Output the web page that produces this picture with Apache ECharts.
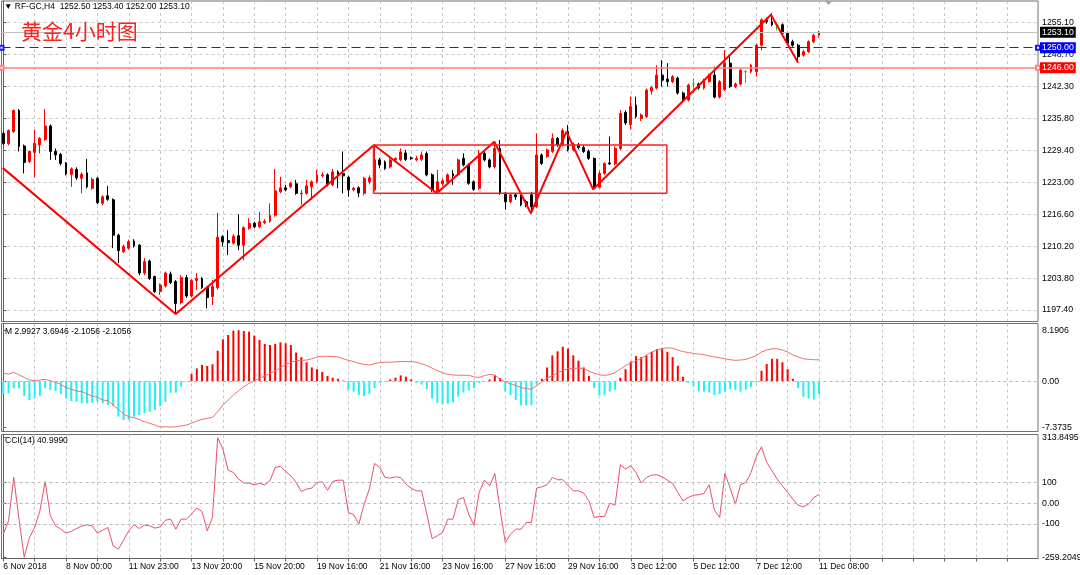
<!DOCTYPE html>
<html><head><meta charset="utf-8">
<script src="https://cdn.jsdelivr.net/npm/echarts@6/dist/echarts.min.js"></script>
<style>html,body{margin:0;padding:0;background:#fff}#c{width:1080px;height:575px}</style>
</head><body><div id="c"></div>
<script>
// ---------- data ----------
const tickLabels = ['6 Nov 2018','8 Nov 00:00','11 Nov 23:00','13 Nov 20:00','15 Nov 20:00','19 Nov 16:00','21 Nov 16:00','23 Nov 16:00','27 Nov 16:00','29 Nov 16:00','3 Dec 12:00','5 Dec 12:00','7 Dec 12:00','11 Dec 08:00'];
const tickLabelBars = [0,12,24,36,48,60,72,84,96,108,120,132,144,156];
const gridBars = [0,6,12,18,24,30,36,42,48,54,60,66,72,78,84,90,96,102,108,114,120,126,132,138,144,150,156,162,168,174,180,186,192];

const opens = [1232.8,1230.8,1233.2,1237.4,1230.3,1227.2,1229.0,1230.5,1231.6,1234.3,
1229.2,1228.6,1226.9,1224.6,1225.6,1223.8,1224.9,1221.8,1223.8,1218.8,
1220.3,1219.5,1212.4,1209.1,1209.8,1211.2,1210.4,1204.8,1207.2,1204.1,
1201.1,1202.2,1204.6,1203.1,1198.9,1203.9,1200.2,1203.3,1203.7,1201.9,
1200.1,1201.9,1212.1,1211.3,1210.8,1212.3,1210.4,1213.8,1214.8,1214.1,
1214.9,1215.2,1216.4,1221.1,1221.9,1222.1,1222.7,1220.7,1220.8,1222.1,
1223.1,1224.3,1224.5,1222.5,1225.1,1224.8,1224.0,1221.5,1221.9,1220.8,
1223.1,1221.5,1227.5,1227.1,1226.1,1227.5,1227.5,1228.9,1227.9,1227.5,
1227.6,1228.8,1224.5,1221.1,1222.7,1223.1,1224.7,1224.5,1227.8,1226.5,
1223.1,1221.8,1228.8,1227.5,1226.1,1229.8,1220.8,1219.1,1220.5,1220.3,
1219.1,1220.5,1218.1,1228.5,1228.2,1229.2,1231.8,1230.5,1233.2,1229.6,
1230.5,1230.0,1229.2,1227.8,1222.0,1224.8,1226.9,1226.7,1229.8,1237.0,
1234.6,1238.5,1235.8,1236.2,1241.3,1241.9,1244.5,1243.7,1243.2,1243.9,
1240.9,1239.5,1242.7,1242.7,1241.9,1243.2,1244.5,1240.1,1241.6,1246.9,
1242.2,1242.7,1245.2,1245.2,1245.2,1250.5,1255.6,1255.2,1254.5,1254.6,
1252.9,1251.2,1250.5,1248.5,1249.2,1251.2,1252.5];
const highs = [1233.2,1233.6,1237.6,1237.7,1230.6,1229.4,1233.5,1232.1,1237.7,1234.6,
1229.8,1228.9,1227.1,1226.0,1226.0,1225.0,1227.7,1224.0,1224.1,1220.4,
1222.3,1219.8,1212.7,1210.5,1211.5,1211.6,1210.6,1207.8,1207.5,1204.3,
1202.7,1205.1,1205.1,1203.4,1204.4,1204.4,1203.6,1204.8,1204.0,1202.1,
1203.4,1216.9,1212.4,1213.4,1212.6,1216.6,1214.2,1215.8,1215.1,1217.1,
1215.6,1218.8,1225.7,1224.1,1222.5,1223.1,1223.5,1221.5,1223.5,1223.4,
1225.5,1225.0,1224.8,1225.7,1225.4,1229.2,1224.3,1222.1,1222.2,1224.1,
1224.4,1230.5,1227.9,1227.4,1227.8,1228.0,1229.8,1229.5,1228.2,1228.3,
1229.2,1229.2,1224.8,1225.5,1223.8,1224.8,1225.5,1227.8,1228.8,1226.8,
1223.4,1229.5,1229.2,1227.8,1231.2,1231.5,1221.1,1220.8,1220.8,1220.6,
1219.5,1221.1,1232.8,1228.8,1229.8,1232.8,1232.1,1233.8,1234.5,1231.0,
1230.9,1230.5,1229.6,1228.0,1225.3,1227.0,1232.2,1230.2,1237.5,1237.4,
1240.2,1240.2,1236.8,1241.8,1242.3,1246.5,1247.5,1246.9,1244.5,1244.2,
1241.2,1242.8,1243.9,1243.0,1243.8,1244.8,1246.2,1243.5,1249.5,1248.5,
1243.0,1245.8,1245.6,1246.8,1250.8,1255.9,1256.0,1256.9,1255.0,1254.9,
1253.2,1251.6,1250.8,1249.6,1251.5,1252.8,1253.4];
const lows = [1230.5,1230.4,1232.9,1229.2,1224.8,1226.9,1224.0,1228.8,1231.3,1227.5,
1227.5,1226.4,1224.4,1222.1,1223.5,1220.8,1221.8,1221.5,1218.6,1218.4,
1219.3,1209.8,1206.8,1208.8,1209.5,1209.9,1204.4,1204.4,1203.4,1200.8,
1200.4,1201.9,1202.6,1196.6,1198.5,1199.8,1199.9,1201.4,1201.6,1197.7,
1198.4,1201.5,1210.1,1208.4,1210.5,1209.4,1207.4,1213.5,1213.8,1213.8,
1214.6,1214.9,1216.1,1220.8,1221.2,1221.8,1220.5,1218.5,1220.5,1219.5,
1222.8,1224.0,1222.2,1222.2,1221.8,1220.8,1220.1,1221.2,1220.0,1220.4,
1222.6,1221.2,1225.8,1225.5,1225.8,1227.2,1227.2,1227.3,1227.5,1227.2,
1227.3,1224.2,1221.1,1220.8,1222.2,1222.8,1222.5,1224.2,1226.2,1222.5,
1221.3,1221.5,1227.2,1225.8,1225.8,1220.5,1217.5,1218.8,1219.5,1218.2,
1218.0,1216.8,1217.8,1226.5,1227.9,1228.9,1230.1,1230.2,1229.2,1229.2,
1229.6,1228.9,1227.5,1221.6,1221.8,1224.5,1226.5,1226.4,1229.5,1234.5,
1233.6,1235.8,1235.3,1235.9,1240.6,1241.6,1242.2,1242.2,1242.9,1240.6,
1239.2,1239.2,1240.9,1241.6,1241.6,1243.0,1239.8,1239.8,1241.3,1241.9,
1241.9,1242.4,1242.9,1244.9,1244.2,1249.5,1254.8,1254.3,1253.5,1252.6,
1250.6,1250.2,1247.0,1248.2,1248.9,1250.9,1252.0];
const closes = [1230.8,1233.4,1237.4,1230.2,1227.0,1229.2,1230.8,1231.8,1234.3,1229.2,
1228.5,1226.8,1224.7,1225.7,1223.9,1224.6,1222.1,1223.6,1218.9,1220.1,
1219.6,1212.4,1209.3,1210.1,1211.1,1210.3,1204.8,1207.1,1203.7,1201.1,
1202.4,1204.8,1202.9,1198.7,1203.9,1200.2,1203.3,1203.7,1201.9,1199.9,
1202.1,1212.0,1211.1,1210.9,1212.2,1210.4,1213.9,1214.8,1214.1,1215.1,
1215.2,1216.4,1221.3,1221.9,1221.5,1222.8,1220.8,1220.8,1222.3,1223.1,
1224.5,1224.5,1222.5,1225.1,1224.5,1224.3,1221.5,1221.8,1220.9,1223.8,
1223.9,1227.5,1226.5,1225.8,1227.5,1227.8,1229.1,1227.6,1227.8,1227.8,
1228.5,1224.5,1221.5,1223.1,1223.3,1224.5,1224.3,1227.5,1226.5,1222.8,
1221.6,1228.8,1227.5,1226.1,1229.8,1220.8,1219.1,1220.5,1220.1,1218.5,
1218.5,1218.1,1228.5,1226.8,1229.5,1231.8,1230.5,1233.4,1229.5,1230.6,
1230.0,1229.2,1227.8,1221.9,1224.8,1226.8,1226.7,1229.8,1236.8,1234.9,
1238.2,1236.2,1236.5,1241.5,1242.0,1244.5,1243.5,1243.2,1244.2,1240.9,
1239.5,1242.5,1242.7,1241.9,1243.5,1244.5,1240.1,1243.2,1246.9,1242.2,
1242.7,1245.5,1245.2,1246.5,1250.5,1255.6,1255.2,1254.6,1254.5,1252.9,
1250.9,1250.5,1248.2,1249.2,1251.2,1252.5,1253.1];
const dojiBars = [132,142,148];

const macdHist = [-1.95,-1.95,-1.14,-1.14,-2.38,-3.02,-2.75,-2.38,-1.14,-1.41,
-1.57,-2.06,-2.75,-3.18,-3.29,-3.55,-3.55,-3.45,-3.29,-3.55,
-3.82,-3.98,-5.69,-6.23,-6.23,-5.69,-5.43,-5.16,-4.90,-4.63,
-3.98,-3.29,-1.84,-1.84,-0.88,-0.10,1.16,2.06,2.60,2.44,
2.71,4.90,6.72,7.42,8.11,8.19,8.06,7.95,7.31,6.61,
5.97,5.81,5.97,6.24,6.08,5.80,4.60,3.87,3.04,2.21,
1.93,1.49,0.83,0.55,0.39,0.10,-1.38,-1.66,-2.21,-2.37,
-2.04,-1.10,-0.28,-0.10,0.28,0.55,0.94,0.72,0.28,-0.28,
-0.55,-1.27,-2.76,-3.48,-3.70,-3.59,-3.42,-2.48,-1.82,-1.49,
-1.10,-0.28,-0.10,0.28,0.94,0.50,-1.66,-2.21,-3.04,-3.87,
-3.87,-3.87,-0.50,0.39,2.21,4.14,4.80,5.52,5.25,4.14,
3.31,2.21,0.83,-1.10,-2.21,-2.21,-1.66,-1.38,0.55,1.93,
3.15,4.03,3.87,4.14,4.69,5.14,5.25,4.69,3.87,2.48,
0.72,-0.28,-0.83,-1.66,-1.66,-1.82,-2.21,-2.04,-1.66,-1.27,
-1.38,-1.66,-1.38,-0.94,-0.20,1.66,2.76,3.59,3.59,3.04,
1.93,0.39,-1.10,-2.48,-2.76,-2.93,-2.11];
const macdLine = [1.26,1.16,1.42,1.00,0.62,0.19,0.09,0.19,0.30,0.09,
-0.18,-0.50,-1.04,-1.30,-1.57,-1.68,-2.05,-2.38,-2.59,-3.02,
-3.12,-3.82,-4.52,-5.26,-5.69,-5.86,-6.12,-6.50,-6.76,-7.03,
-7.37,-7.30,-7.37,-7.30,-7.19,-7.03,-6.76,-6.39,-6.12,-5.96,
-5.80,-4.90,-3.82,-3.02,-2.22,-1.52,-0.88,-0.34,0.03,0.46,
0.83,1.26,1.64,2.17,2.71,3.03,3.30,3.35,3.40,3.60,
3.90,4.00,4.00,3.95,3.90,3.60,3.35,3.15,2.85,2.70,
2.60,2.80,3.00,3.05,3.05,3.10,3.15,3.15,3.15,3.05,
2.80,2.50,2.10,1.70,1.35,1.10,1.00,0.95,0.95,0.95,
0.70,0.60,0.90,1.10,1.00,0.30,-0.10,-0.40,-0.70,-1.00,
-1.20,-1.27,-0.70,-0.10,0.50,0.90,1.35,1.70,2.00,2.05,
2.10,2.05,1.60,1.30,1.00,0.95,1.05,1.40,1.95,2.50,
2.90,3.30,3.65,4.20,4.70,5.00,5.25,5.35,5.30,5.00,
4.75,4.60,4.45,4.35,4.25,4.05,3.90,3.75,3.60,3.45,
3.35,3.40,3.50,3.80,4.10,4.70,5.00,5.20,5.20,5.00,
4.70,4.20,3.90,3.60,3.50,3.45,3.42];
const cci = [-149,-85,123,-77,-259.2,-165,-117,-37,104,-61,
-109,-125,-144,-136,-122,-110,-104,-109,-144,-130,
-117,-205,-221,-178,-133,-104,-122,-106,-109,-120,
-114,-82,-77,-125,-77,-77,-53,-24,-40,-133,
-69,313.85,259,158,147,115,96,96,88,94,
88,107,171,176,152,131,99,56,67,72,
99,102,62,104,110,110,-45,-56,-101,-5,
67,190,171,123,120,126,123,91,72,59,
59,-53,-170,-157,-141,-77,-77,16,27,-53,
-106,51,110,83,142,-29,-189,-149,-125,-125,
-93,-93,72,78,88,123,112,112,83,59,
59,48,11,-69,-64,-64,0,-10,184,163,
179,147,96,123,134,136,126,110,94,51,
11,27,38,40,46,88,-34,-69,142,72,
-5,88,99,147,222,270,195,155,115,83,
51,19,-10,-18,-5,27,41.0];

const priceTicks = [1255.10,1248.70,1242.30,1235.80,1229.40,1223.00,1216.60,1210.20,1203.80,1197.40];
const macdTicks = [8.1906,0,-7.3735];
const macdTickText = ['8.1906','0.00','-7.3735'];
const cciTicks = [313.8495,100,0,-100,-259.2049];
const cciTickText = ['313.8495','100','0.00','-100','-259.2049'];
const cciLevels = [100,0,-100];

// drawn objects (bar index, price)
const zigzagBars   = [-0.11,32.97,70.9,82.9,93.9,100.9,107.7,112.8,146.8,152.0];
const zigzagPrices = [1225.9,1196.6,1230.5,1220.8,1231.15,1216.8,1233.16,1221.6,1256.6,1247.0];
const boxBars   = [70.8,126.9];
const boxPrices = [1230.5,1220.8];
const bidPrice = 1253.10;
const hLines = [1250.00,1246.00];

// ---------- chart ----------
const FONT = "'Liberation Sans', Arial, sans-serif";
const XMIN = -0.344, XMAX = 197.88;
const chart = echarts.init(document.getElementById('c'), null, {renderer:'canvas'});

function nearestText(v, ticks, texts){
  let best=0; for(let k=1;k<ticks.length;k++){ if(Math.abs(ticks[k]-v)<Math.abs(ticks[best]-v)) best=k; }
  return texts[best];
}
function xAx(gi, bottom){
  return {
    type:'value', gridIndex:gi, min:XMIN, max:XMAX,
    axisLine:{show:bottom, onZero:false, lineStyle:{color:'#606060'}},
    axisTick:{show:bottom, customValues:gridBars, length:3, lineStyle:{color:'#606060'}},
    axisLabel:{show:bottom, customValues:tickLabelBars, align:'left', margin:4, color:'#000',
      fontSize:8.5, fontFamily:FONT,
      formatter:(v)=>{ const k=tickLabelBars.indexOf(Math.round(v)); return k>=0?tickLabels[k]:''; }},
    splitLine:{show:true, lineStyle:{color:'#c8c8c8', type:[3,3], width:1}}
  };
}
const yLabel = {color:'#000', fontSize:8.8, fontFamily:FONT, margin:4};

const candleData = opens.map((o,i)=>{
  const item = {value:[i, o, closes[i], lows[i], highs[i]]};
  if (dojiBars.indexOf(i)>=0) item.itemStyle = {color:'#22bb22', color0:'#22bb22', borderColor:'#22bb22', borderColor0:'#22bb22', borderColorDoji:'#22bb22'};
  return item;
});

const boxData = [[boxBars[0],boxPrices[0]],[boxBars[1],boxPrices[0]],[boxBars[1],boxPrices[1]],[boxBars[0],boxPrices[1]],[boxBars[0],boxPrices[0]]];

const endLabel = (bg)=>({show:true, position:'end', distance:2, backgroundColor:bg, color:'#fff',
  fontSize:8.8, fontFamily:FONT, padding:[1,2,0,2], lineHeight:10, formatter:(p)=>Number(p.value).toFixed(2)});

const option = {
  animation:false,
  backgroundColor:'#fff',
  textStyle:{fontFamily:FONT},
  grid:[
    {left:1.5, right:42, top:1, height:320.5, show:true, borderColor:'#707070', borderWidth:1, outerBoundsMode:'none'},
    {left:1.5, right:42, top:323.5, height:108, show:true, borderColor:'#707070', borderWidth:1, outerBoundsMode:'none'},
    {left:1.5, right:42, top:434.5, height:124, show:true, borderColor:'#707070', borderWidth:1, outerBoundsMode:'none'}
  ],
  xAxis:[xAx(0,false), xAx(1,false), xAx(2,true)],
  yAxis:[
    {type:'value', gridIndex:0, position:'right', min:1195.09, max:1259.37,
     axisLine:{show:true, lineStyle:{color:'#606060'}},
     axisTick:{show:true, customValues:priceTicks, length:3, lineStyle:{color:'#606060'}},
     axisLabel:Object.assign({customValues:priceTicks, formatter:(v)=>nearestText(v, priceTicks, priceTicks.map(t=>t.toFixed(2)))}, yLabel),
     splitLine:{show:true, lineStyle:{color:'#c8c8c8', type:[3,3], width:1}}},
    {type:'value', gridIndex:1, position:'right', min:-8.07, max:9.26,
     axisLine:{show:true, lineStyle:{color:'#606060'}},
     axisTick:{show:true, customValues:macdTicks, length:3, lineStyle:{color:'#606060'}},
     axisLabel:Object.assign({customValues:macdTicks, formatter:(v)=>nearestText(v, macdTicks, macdTickText)}, yLabel),
     splitLine:{show:false}},
    {type:'value', gridIndex:2, position:'right', min:-265.7, max:329,
     axisLine:{show:true, lineStyle:{color:'#606060'}},
     axisTick:{show:true, customValues:cciTicks, length:3, lineStyle:{color:'#606060'}},
     axisLabel:Object.assign({customValues:cciTicks, formatter:(v)=>nearestText(v, cciTicks, cciTickText)}, yLabel),
     splitLine:{show:false}}
  ],
  graphic:[
    {type:'text', left:4, top:2, z:100, style:{text:'\u25BC RF-GC,H4  1252.50 1253.40 1252.00 1253.10', font:"8.5px 'Liberation Sans','DejaVu Sans'", fill:'#000'}},
    {type:'text', left:21, top:21, z:100, style:{text:'黄金4小时图', font:"21px 'Noto Sans CJK SC'", fill:'#ff2020'}},
    {type:'text', left:5, top:327, z:100, style:{text:'M 2.9927 3.6946 -2.1056 -2.1056', font:"8.5px 'Liberation Sans'", fill:'#000'}},
    {type:'text', left:5, top:436.5, z:100, style:{text:'CCI(14) 40.9990', font:"8.5px 'Liberation Sans'", fill:'#000'}},
    {type:'polygon', z:100, shape:{points:[[825,1],[832,1],[828.5,5]]}, style:{fill:'#a0a0a0'}}
  ],
  series:[
    {type:'candlestick', xAxisIndex:0, yAxisIndex:0, data:candleData, barWidth:2.4,
     encode:{x:0, y:[1,2,3,4]},
     itemStyle:{color:'#ff0000', color0:'#000000', borderColor:'#ff0000', borderColor0:'#000000', borderColorDoji:'#000000', borderWidth:1},
     markLine:{silent:true, symbol:['none','none'], animation:false,
       data:[{yAxis:bidPrice, lineStyle:{color:'#c0c0c0', type:'solid', width:1}, label:endLabel('#000000')}]}},
    {type:'line', xAxisIndex:0, yAxisIndex:0, data:zigzagBars.map((b,k)=>[b, zigzagPrices[k]]),
     showSymbol:false, symbol:'none', lineStyle:{color:'#ff0000', width:2}, z:5,
     markLine:{silent:true, symbol:['emptyRect','emptyRect'], symbolSize:4, animation:false,
       data:[
         {yAxis:hLines[0], lineStyle:{color:'#1a1aff', type:[9,5], width:1}, label:endLabel('#0000ff')},
         {yAxis:hLines[1], lineStyle:{color:'#ff8080', type:'solid', width:1.5}, label:endLabel('#ff0000')}
       ]}},
    {type:'line', xAxisIndex:0, yAxisIndex:0, data:boxData, showSymbol:false, symbol:'none',
     lineStyle:{color:'#ff2020', width:1.5}, z:5},
    {type:'bar', xAxisIndex:1, yAxisIndex:1, data:macdHist.map((v,i)=>[i,v]), barWidth:2,
     itemStyle:{color:(p)=> p.value[1]>=0 ? '#ff0000' : '#22f0f0'},
     markLine:{silent:true, symbol:['none','none'], animation:false, label:{show:false},
       data:[{yAxis:0, lineStyle:{color:'#b8b8b8', type:[3,3], width:1}}]}},
    {type:'line', xAxisIndex:1, yAxisIndex:1, data:macdLine.map((v,i)=>[i,v]), showSymbol:false, symbol:'none',
     lineStyle:{color:'#f07070', width:1}},
    {type:'line', xAxisIndex:2, yAxisIndex:2, data:cci.map((v,i)=>[i,v]), showSymbol:false, symbol:'none',
     lineStyle:{color:'#e8506a', width:1},
     markLine:{silent:true, symbol:['none','none'], animation:false, label:{show:false},
       data:cciLevels.map(v=>({yAxis:v, lineStyle:{color:'#b8b8b8', type:[3,3], width:1}}))}}
  ]
};
chart.setOption(option);
</script>
</body></html>
